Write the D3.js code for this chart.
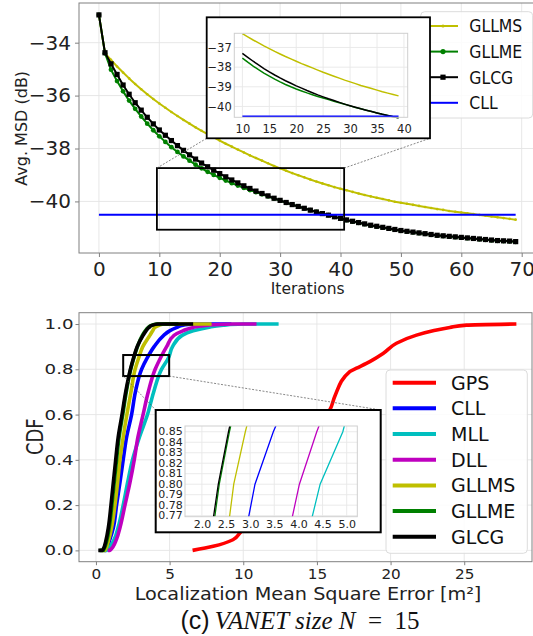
<!DOCTYPE html>
<html>
<head>
<meta charset="utf-8">
<script src="https://cdn.jsdelivr.net/npm/d3@7"></script>
<style>
  body { margin: 0; background: #fff; }
  svg { display: block; }
</style>
</head>
<body>
<div id="container"></div>
<script>
//----------------------------DATA: TOP PANEL----------------------------//
// average MSD (dB), one value per iteration 0..69
var gllmsMsd = [-32.95, -34.40, -34.65, -34.90, -35.13, -35.35, -35.56, -35.76, -35.95, -36.13,
  -36.30, -36.46, -36.62, -36.77, -36.92, -37.06, -37.20, -37.33, -37.46, -37.58,
  -37.70, -37.82, -37.93, -38.04, -38.15, -38.26, -38.36, -38.46, -38.56, -38.66,
  -38.75, -38.84, -38.93, -39.01, -39.09, -39.17, -39.25, -39.32, -39.39, -39.46,
  -39.52, -39.58, -39.64, -39.70, -39.76, -39.81, -39.86, -39.91, -39.96, -40.01,
  -40.05, -40.09, -40.13, -40.17, -40.21, -40.25, -40.29, -40.32, -40.36, -40.39,
  -40.42, -40.45, -40.48, -40.51, -40.54, -40.57, -40.60, -40.63, -40.66, -40.69];
var gllmeMsd = [-32.95, -34.40, -35.02, -35.45, -35.84, -36.19, -36.50, -36.79, -37.06, -37.31,
  -37.54, -37.75, -37.95, -38.13, -38.30, -38.46, -38.61, -38.75, -38.88, -39.00,
  -39.11, -39.21, -39.31, -39.40, -39.49, -39.57, -39.65, -39.73, -39.81, -39.89,
  -39.97, -40.05, -40.12, -40.19, -40.26, -40.33, -40.40, -40.46, -40.52, -40.58,
  -40.65, -40.71, -40.76, -40.81, -40.86, -40.91, -40.95, -40.99, -41.03, -41.07,
  -41.11, -41.14, -41.17, -41.20, -41.23, -41.26, -41.29, -41.31, -41.33, -41.35,
  -41.37, -41.39, -41.41, -41.43, -41.45, -41.47, -41.49, -41.50, -41.51, -41.53];
var glcgMsd = [-32.95, -34.38, -34.80, -35.20, -35.60, -35.95, -36.27, -36.55, -36.82, -37.07,
  -37.30, -37.50, -37.70, -37.89, -38.07, -38.24, -38.40, -38.55, -38.69, -38.82,
  -38.95, -39.07, -39.19, -39.30, -39.41, -39.51, -39.61, -39.70, -39.79, -39.88,
  -39.96, -40.04, -40.12, -40.19, -40.26, -40.33, -40.40, -40.46, -40.52, -40.58,
  -40.64, -40.70, -40.75, -40.80, -40.85, -40.90, -40.94, -40.98, -41.02, -41.06,
  -41.10, -41.13, -41.16, -41.19, -41.22, -41.25, -41.28, -41.30, -41.32, -41.34,
  -41.36, -41.38, -41.40, -41.42, -41.44, -41.46, -41.48, -41.49, -41.50, -41.52];
var cllIter = [0, 69];
var cllMsd = [-40.5, -40.5];

var topNames = ["GLLMS", "GLLME", "GLCG", "CLL"];
var topColors = ["#bfbf00", "#008000", "#000000", "#0000ff"];
var topMarkers = ["dot", "circle", "square", "none"];
var topXTicks = [0, 10, 20, 30, 40, 50, 60, 70];
var topYTicks = [-34, -36, -38, -40];
var topInsetXTicks = [10, 15, 20, 25, 30, 35, 40];
var topInsetYTicks = [-37, -38, -39, -40];
var topInsetIter = [10, 39];
var topZoomX = [9.6, 40.6];
var topZoomY = [-41.07, -38.74];

//---------------------------DATA: BOTTOM PANEL--------------------------//
// error values [m^2] at which each CDF reaches the levels below
var cdfLevels = [0, 0, 0.05, 0.1, 0.2, 0.3, 0.4, 0.5, 0.6, 0.7, 0.8, 0.85, 0.9, 0.95, 0.97, 0.985, 0.995, 1.0, 1.0];
var errCLL   = [0.55, 0.66, 0.95, 1.18, 1.40, 1.63, 1.85, 2.08, 2.42, 2.68, 3.10, 3.48, 3.95, 4.60, 5.00, 5.50, 5.90, 6.80, 9.20];
var errMLL   = [0.62, 0.72, 1.25, 1.50, 1.85, 2.15, 2.48, 2.95, 3.50, 3.92, 4.45, 4.92, 5.20, 5.85, 6.60, 7.60, 8.64, 10.00, 12.40];
var errDLL   = [0.80, 0.95, 1.40, 1.63, 1.97, 2.31, 2.60, 2.85, 3.20, 3.55, 4.02, 4.38, 4.80, 5.30, 5.90, 6.60, 7.60, 9.30, 10.90];
var errGLLMS = [0.45, 0.60, 0.88, 1.06, 1.29, 1.47, 1.63, 1.85, 2.10, 2.38, 2.66, 2.90, 3.18, 3.66, 3.85, 4.00, 4.30, 4.70, 7.85];
var errGLLME = [0.25, 0.50, 0.76, 0.90, 1.08, 1.24, 1.40, 1.57, 1.82, 2.06, 2.36, 2.57, 2.82, 3.15, 3.35, 3.55, 3.80, 4.10, 5.60];
var errGLCG  = [0.16, 0.45, 0.70, 0.84, 1.02, 1.18, 1.34, 1.51, 1.77, 2.02, 2.34, 2.55, 2.80, 3.20, 3.40, 3.60, 3.85, 4.20, 6.60];
// GPS is read on its own, finer set of levels
var gpsLevels = [0, 0.018, 0.047, 0.077, 0.15, 0.25, 0.35, 0.45, 0.55, 0.62, 0.68, 0.79, 0.805, 0.834, 0.87, 0.915, 0.951, 0.97, 0.985, 0.995, 1.0];
var errGPS    = [6.56, 7.96, 9.30, 9.77, 10.60, 11.70, 12.70, 13.70, 14.90, 15.87, 16.21, 17.23, 17.69, 18.59, 19.49, 20.40, 21.76, 22.88, 24.02, 25.15, 28.54];

var bottomNames = ["GPS", "CLL", "MLL", "DLL", "GLLMS", "GLLME", "GLCG"];
var bottomColors = ["#ff0000", "#0000ff", "#00bfbf", "#bf00bf", "#bfbf00", "#008000", "#000000"];
var bottomXTicks = [0, 5, 10, 15, 20, 25];
var bottomYTicks = [0, 0.2, 0.4, 0.6, 0.8, 1.0];
var insetXTicks = [2.0, 2.5, 3.0, 3.5, 4.0, 4.5, 5.0];
var insetYTicks = [0.77, 0.78, 0.79, 0.80, 0.81, 0.82, 0.83, 0.84, 0.85];
var bottomZoomX = [1.85, 4.97];
var bottomZoomY = [0.77, 0.863];

//------------------------------SVG-------------------------------------//
const FONT = "'DejaVu Sans', sans-serif";
const svg = d3.select("div#container").append("svg")
    .attr("width", 533)
    .attr("height", 636)
    .style("font-family", FONT);
const defs = svg.append("defs");

function clip(id, x0, y0, x1, y1) {
  defs.append("clipPath").attr("id", id).append("rect")
    .attr("x", x0).attr("y", y0).attr("width", x1 - x0).attr("height", y1 - y0);
  return "url(#" + id + ")";
}

function addGrid(g, x, y, xt, yt, color) {
  const xr = x.range(), yr = y.range();
  g.append("g").selectAll("line").data(xt).join("line")
    .attr("x1", d => x(d)).attr("x2", d => x(d))
    .attr("y1", yr[0]).attr("y2", yr[1])
    .attr("stroke", color).attr("stroke-width", 0.9);
  g.append("g").selectAll("line").data(yt).join("line")
    .attr("y1", d => y(d)).attr("y2", d => y(d))
    .attr("x1", xr[0]).attr("x2", xr[1])
    .attr("stroke", color).attr("stroke-width", 0.9);
}

function addAxes(g, x, y, xt, yt, o) {
  const xr = x.range(), yr = y.range();
  g.append("rect")
    .attr("x", xr[0]).attr("y", yr[1])
    .attr("width", xr[1] - xr[0]).attr("height", yr[0] - yr[1])
    .attr("fill", "none").attr("stroke", o.spine).attr("stroke-width", 1);
  const gx = g.append("g").attr("transform", "translate(0," + yr[0] + ")")
    .call(d3.axisBottom(x).tickValues(xt).tickSize(o.tick).tickPadding(o.xpad).tickFormat(o.xfmt));
  const gy = g.append("g").attr("transform", "translate(" + xr[0] + ",0)")
    .call(d3.axisLeft(y).tickValues(yt).tickSize(o.tick).tickPadding(o.ypad).tickFormat(o.yfmt));
  [gx, gy].forEach(function (a) {
    a.attr("font-family", FONT).attr("font-size", o.font);
    a.select(".domain").remove();
    a.selectAll(".tick line").attr("stroke", o.spine);
    a.selectAll("text").attr("fill", "#222");
  });
  if (o.yfont) gy.attr("font-size", o.yfont);
  if (o.xs) gx.selectAll("text").attr("transform", "scale(" + o.xs + ",1)");
  if (o.ys) gy.selectAll("text")
    .attr("transform", "scale(" + o.ys + ",1)")
    .attr("x", -(o.tick + o.ypad) / o.ys);
}

function addLegend(g, names, colors, markers, o) {
  g.append("rect")
    .attr("x", o.x).attr("y", o.y).attr("width", o.w).attr("height", o.h).attr("rx", 4)
    .attr("fill", "#fff").attr("fill-opacity", 0.85)
    .attr("stroke", "#dcdcdc").attr("stroke-width", 1);
  names.forEach(function (name, i) {
    const cy = o.y0 + i * o.dy;
    g.append("line")
      .attr("x1", o.h0).attr("x2", o.h1).attr("y1", cy).attr("y2", cy)
      .attr("stroke", colors[i]).attr("stroke-width", o.lw);
    const mx = (o.h0 + o.h1) / 2;
    const m = markers ? markers[i] : "none";
    if (m === "dot") g.append("circle").attr("cx", mx).attr("cy", cy).attr("r", 1.6).attr("fill", colors[i]);
    if (m === "circle") g.append("circle").attr("cx", mx).attr("cy", cy).attr("r", 2.6).attr("fill", colors[i]);
    if (m === "square") g.append("rect").attr("x", mx - 2.6).attr("y", cy - 2.6).attr("width", 5.2).attr("height", 5.2).attr("fill", colors[i]);
    g.append("text")
      .attr("transform", "translate(" + o.tx + "," + cy + ") scale(" + o.sx + ",1)")
      .attr("dy", "0.36em")
      .attr("font-size", o.font)
      .attr("fill", "#111")
      .text(name);
  });
}

//---------------------------TOP PANEL----------------------------------//
const xTop = d3.scaleLinear().domain([-3.3, 72.45]).range([79, 536.5]);
const yTop = d3.scaleLinear().domain([-41.95, -32.5]).range([253, 3]);
const gTop = svg.append("g");

addGrid(gTop, xTop, yTop, topXTicks, topYTicks, "#e4e4e4");

const topClip = clip("topclip", 79, 3, 536.5, 253);
const topLine = d3.line().x((d, i) => xTop(i)).y(d => yTop(d));
const topSeries = [gllmsMsd, gllmeMsd, glcgMsd];
const gTopLines = gTop.append("g").attr("clip-path", topClip);

topSeries.forEach(function (s, k) {
  gTopLines.append("path")
    .attr("d", topLine(s))
    .attr("fill", "none")
    .attr("stroke", topColors[k])
    .attr("stroke-width", 2)
    .attr("stroke-linejoin", "round");
  if (topMarkers[k] === "square") {
    gTopLines.append("g").selectAll("rect").data(s).join("rect")
      .attr("x", (d, i) => xTop(i) - 2.6).attr("y", d => yTop(d) - 2.6)
      .attr("width", 5.2).attr("height", 5.2).attr("fill", topColors[k]);
  } else {
    gTopLines.append("g").selectAll("circle").data(s).join("circle")
      .attr("cx", (d, i) => xTop(i)).attr("cy", d => yTop(d))
      .attr("r", topMarkers[k] === "circle" ? 2.4 : 1.3)
      .attr("fill", topColors[k]);
  }
});

gTopLines.append("line")
  .attr("x1", xTop(cllIter[0])).attr("x2", xTop(cllIter[1]))
  .attr("y1", yTop(cllMsd[0])).attr("y2", yTop(cllMsd[1]))
  .attr("stroke", topColors[3]).attr("stroke-width", 2);

// zoom rectangle and connectors to the inset box
const topBox = {x0: 206.7, y0: 17.3, x1: 430, y1: 138.3};
gTop.append("rect")
  .attr("x", xTop(topZoomX[0])).attr("y", yTop(topZoomY[1]))
  .attr("width", xTop(topZoomX[1]) - xTop(topZoomX[0]))
  .attr("height", yTop(topZoomY[0]) - yTop(topZoomY[1]))
  .attr("fill", "none").attr("stroke", "#000").attr("stroke-width", 1.8);
[[topZoomX[0], topBox.x0], [topZoomX[1], topBox.x1]].forEach(function (p) {
  gTop.append("line")
    .attr("x1", xTop(p[0])).attr("y1", yTop(topZoomY[1]))
    .attr("x2", p[1]).attr("y2", topBox.y1)
    .attr("stroke", "#555").attr("stroke-width", 0.7).attr("stroke-dasharray", "2,1.5");
});

addAxes(gTop, xTop, yTop, topXTicks, topYTicks, {
  spine: "#808080", tick: 4, xpad: 5, ypad: 4, font: 20,
  xfmt: d3.format("d"), yfmt: d3.format("d")
});

gTop.append("text")
  .attr("x", 307.7).attr("y", 294.3)
  .attr("text-anchor", "middle").attr("font-size", 15.5).attr("fill", "#222")
  .text("Iterations");
gTop.append("text")
  .attr("transform", "translate(27,128.3) rotate(-90)")
  .attr("text-anchor", "middle").attr("font-size", 16).attr("fill", "#222")
  .text("Avg. MSD (dB)");

addLegend(gTop, topNames, topColors, topMarkers, {
  x: 420.7, y: 11.7, w: 112, h: 106.3,
  y0: 26, dy: 25.6, h0: 428, h1: 458, lw: 2,
  tx: 469.3, font: 18, sx: 0.87
});

// inset
gTop.append("rect")
  .attr("x", topBox.x0).attr("y", topBox.y0)
  .attr("width", topBox.x1 - topBox.x0).attr("height", topBox.y1 - topBox.y0)
  .attr("fill", "#fff").attr("stroke", "#000").attr("stroke-width", 1.8);
const xTi = d3.scaleLinear().domain([8.5, 40.7]).range([234.3, 407.7]);
const yTi = d3.scaleLinear().domain([-40.55, -36.28]).range([117.3, 33.3]);
addGrid(gTop, xTi, yTi, topInsetXTicks, topInsetYTicks, "#e8e8e8");
const gTi = gTop.append("g").attr("clip-path", clip("ticlip", 234.3, 33.3, 407.7, 121));
const insetLine = d3.line().x((d, i) => xTi(i + topInsetIter[0])).y(d => yTi(d));
topSeries.forEach(function (s, k) {
  gTi.append("path")
    .attr("d", insetLine(s.slice(topInsetIter[0], topInsetIter[1] + 1)))
    .attr("fill", "none").attr("stroke", topColors[k]).attr("stroke-width", 1.5);
});
gTi.append("line")
  .attr("x1", xTi(topInsetIter[0])).attr("x2", xTi(topInsetIter[1]))
  .attr("y1", yTi(cllMsd[0])).attr("y2", yTi(cllMsd[1]))
  .attr("stroke", topColors[3]).attr("stroke-width", 1.5);
addAxes(gTop, xTi, yTi, topInsetXTicks, topInsetYTicks, {
  spine: "#cfcfcf", tick: 0, xpad: 7.6, ypad: 2.6, font: 11.5,
  xfmt: d3.format("d"), yfmt: d3.format("d")
});

//---------------------------BOTTOM PANEL-------------------------------//
const xBot = d3.scaleLinear().domain([-1.15, 29.6]).range([79, 532]);
const yBot = d3.scaleLinear().domain([-0.05, 1.05]).range([561.7, 312.7]);
const gBot = svg.append("g");

addGrid(gBot, xBot, yBot, bottomXTicks, bottomYTicks, "#e4e4e4");

const bottomSeries = [errGPS, errCLL, errMLL, errDLL, errGLLMS, errGLLME, errGLCG];
const bottomLevels = [gpsLevels, cdfLevels, cdfLevels, cdfLevels, cdfLevels, cdfLevels, cdfLevels];
const gBotLines = gBot.append("g").attr("clip-path", clip("botclip", 79, 312.7, 532, 561.7));
bottomSeries.forEach(function (s, k) {
  const lv = bottomLevels[k];
  const cdfLine = d3.line().x(d => xBot(d)).y((d, i) => yBot(lv[i])).curve(d3.curveMonotoneY);
  gBotLines.append("path")
    .attr("d", cdfLine(s))
    .attr("fill", "none")
    .attr("stroke", bottomColors[k])
    .attr("stroke-width", 3.6)
    .attr("stroke-linejoin", "round");
});

const botBox = {x0: 155.7, y0: 410, x1: 380.7, y1: 532.3};
gBot.append("rect")
  .attr("x", xBot(bottomZoomX[0])).attr("y", yBot(bottomZoomY[1]))
  .attr("width", xBot(bottomZoomX[1]) - xBot(bottomZoomX[0]))
  .attr("height", yBot(bottomZoomY[0]) - yBot(bottomZoomY[1]))
  .attr("fill", "none").attr("stroke", "#000").attr("stroke-width", 2);
[[bottomZoomX[0], botBox.x0], [bottomZoomX[1], botBox.x1]].forEach(function (p) {
  gBot.append("line")
    .attr("x1", xBot(p[0])).attr("y1", yBot(bottomZoomY[0]))
    .attr("x2", p[1]).attr("y2", botBox.y0)
    .attr("stroke", "#555").attr("stroke-width", 0.7).attr("stroke-dasharray", "2,1.5");
});

addAxes(gBot, xBot, yBot, bottomXTicks, bottomYTicks, {
  spine: "#808080", tick: 3.5, xpad: 4, ypad: 2, font: 14.5, yfont: 14,
  xfmt: d3.format("d"), yfmt: d3.format(".1f"), xs: 1.05, ys: 1.3
});

gBot.append("text")
  .attr("transform", "translate(308,599.5) scale(1.1,1)")
  .attr("text-anchor", "middle").attr("font-size", 17.5).attr("fill", "#222")
  .text("Localization Mean Square Error [m\u00b2]");
gBot.append("text")
  .attr("transform", "translate(43.3,436.7) rotate(-90) scale(1,1.25)")
  .attr("text-anchor", "middle").attr("font-size", 18).attr("fill", "#222")
  .text("CDF");

addLegend(gBot, bottomNames, bottomColors, null, {
  x: 386, y: 370, w: 141.3, h: 183.3,
  y0: 382.7, dy: 25.67, h0: 392.7, h1: 436, lw: 4,
  tx: 451, font: 19, sx: 1
});

// inset
gBot.append("rect")
  .attr("x", botBox.x0).attr("y", botBox.y0)
  .attr("width", botBox.x1 - botBox.x0).attr("height", botBox.y1 - botBox.y0)
  .attr("fill", "#fff").attr("stroke", "#000").attr("stroke-width", 2);
const xBi = d3.scaleLinear().domain([1.65, 5.22]).range([185, 357.3]);
const yBi = d3.scaleLinear().domain([0.769, 0.8555]).range([516.7, 426]);
addGrid(gBot, xBi, yBi, insetXTicks, insetYTicks, "#e8e8e8");
const gBi = gBot.append("g").attr("clip-path", clip("biclip", 185, 426, 357.3, 516.7));
bottomSeries.forEach(function (s, k) {
  const lv = bottomLevels[k];
  const insetCdf = d3.line().x(d => xBi(d)).y((d, i) => yBi(lv[i]));
  gBi.append("path")
    .attr("d", insetCdf(s))
    .attr("fill", "none").attr("stroke", bottomColors[k]).attr("stroke-width", 1.3);
});
addAxes(gBot, xBi, yBi, insetXTicks, insetYTicks, {
  spine: "#cfcfcf", tick: 0, xpad: 3.6, ypad: 2.3, font: 11, yfont: 10,
  xfmt: d3.format(".1f"), yfmt: d3.format(".2f"), ys: 1.1
});

//----------------------------CAPTION-----------------------------------//
const cap = svg.append("text")
  .attr("x", 300).attr("y", 629)
  .attr("text-anchor", "middle").attr("font-size", 25).attr("fill", "#111");
cap.append("tspan").attr("font-family", "'Liberation Sans', sans-serif").text("(c)");
cap.append("tspan").attr("font-family", "'Liberation Serif', serif").attr("font-style", "italic")
  .text("\u2009VANET size N");
cap.append("tspan").attr("font-family", "'Liberation Serif', serif")
  .text("\u2002=\u200215");
</script>
</body>
</html>
